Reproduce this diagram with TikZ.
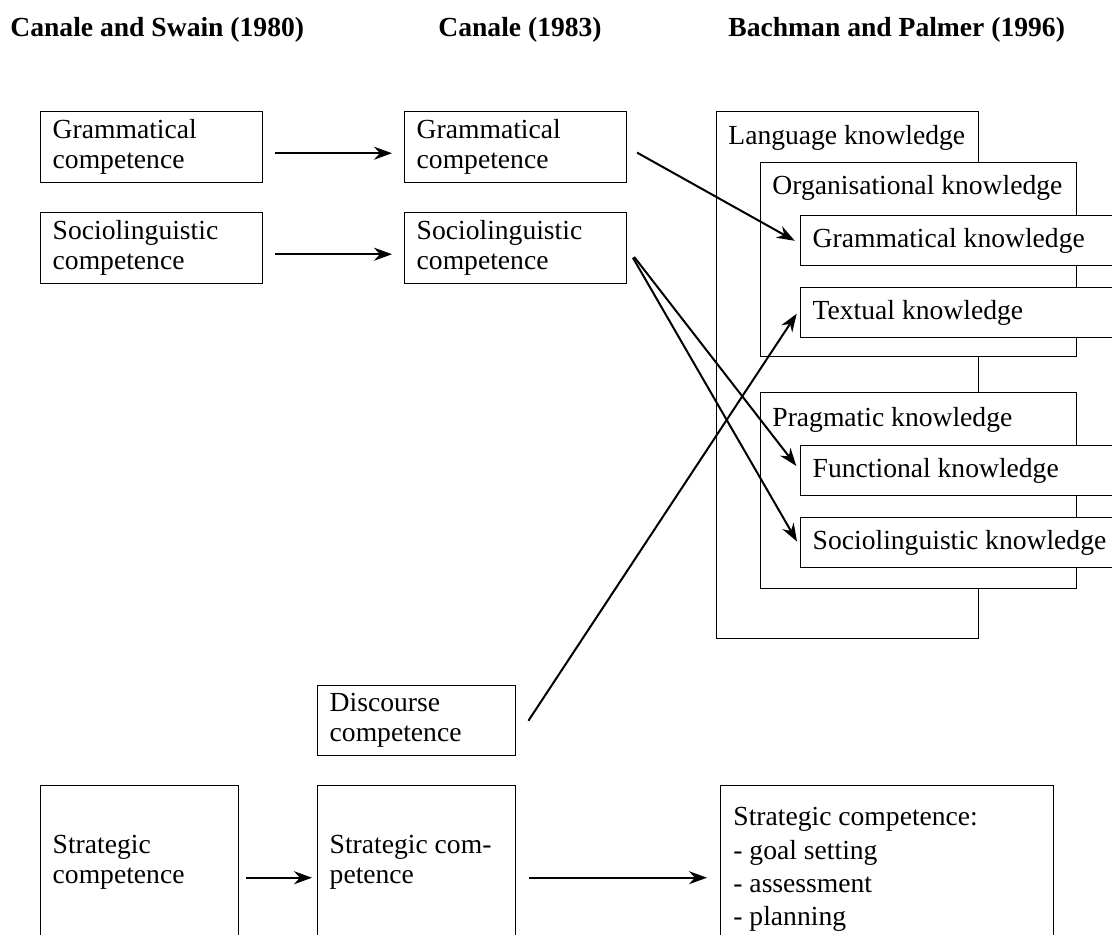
\documentclass[tikz,border=0pt]{standalone}
\usepackage{fontspec}
\setmainfont{Liberation Serif}
\usetikzlibrary{arrows.meta}
\newcommand{\boxfont}{\fontsize{13.8}{15}\selectfont}
\tikzset{
  box/.style={draw, fill=white, line width=0.7pt, anchor=north west, inner xsep=6pt, inner ysep=0pt, align=flush left, font=\boxfont},
  compbox/.style={box, text width=99pt, minimum height=35.5pt},
  stratbox/.style={box, text width=87pt, minimum height=#1},
  knowbox/.style={box, text width=153pt, minimum height=25pt},
  frame/.style={draw, fill=white, line width=0.7pt, anchor=north west, inner sep=0pt},
  lbl/.style={anchor=west, inner sep=0pt, font=\boxfont},
  head/.style={anchor=west, inner sep=0pt, font=\boxfont\bfseries},
  arr/.style={-{Stealth[length=9pt,width=6.5pt]}, line width=1pt},
}
\begin{document}
\begin{tikzpicture}[x=0.5pt,y=-0.5pt]
  \useasboundingbox (0,0) rectangle (1112,934);
  \clip (0,0) rectangle (1112,934);
  % headings
  \node[head] (h1) at (10,30) {Canale and Swain (1980)};
  \node[head] (h2) at (438,30) {Canale (1983)};
  \node[head] (h3) at (728,30) {Bachman and Palmer (1996)};
  % Canale and Swain
  \node[compbox] (lgram) at (40,111) {Grammatical\\competence};
  \node[compbox] (lsoc) at (40,212) {Sociolinguistic\\competence};
  \node[stratbox=77pt] (lstrat) at (40,785) {Strategic\\competence};
  % Canale
  \node[compbox] (mgram) at (404,111) {Grammatical\\competence};
  \node[compbox] (msoc) at (404,212) {Sociolinguistic\\competence};
  \node[stratbox=35pt] (mdisc) at (317,685) {Discourse\\competence};
  \node[stratbox=77pt] (mstrat) at (317,785) {Strategic com-\\petence};
  % Bachman and Palmer
  \node[frame, minimum width=131pt, minimum height=263.5pt] (lang) at (716,111) {};
  \node[lbl] (langl) at (728,138) {Language knowledge};
  \node[frame, minimum width=158pt, minimum height=97pt] (org) at (760,162) {};
  \node[lbl] (orgl) at (772,188) {Organisational knowledge};
  \node[knowbox] (gramk) at (800,215) {Grammatical knowledge};
  \node[knowbox] (textk) at (800,287) {Textual knowledge};
  \node[frame, minimum width=158pt, minimum height=98pt] (prag) at (760,392) {};
  \node[lbl] (pragl) at (772,420) {Pragmatic knowledge};
  \node[knowbox] (funck) at (800,445) {Functional knowledge};
  \node[knowbox] (sock) at (800,517) {Sociolinguistic knowledge};
  \node[frame, minimum width=166.5pt, minimum height=77pt] (rstrat) at (720,785) {};
  \node[lbl, anchor=north west, align=flush left, font=\fontsize{13.8}{16.7}\selectfont] (rstratl) at (733,807)
    {Strategic competence:\\- goal setting\\- assessment\\- planning};
  % arrows
  \draw[arr, shorten <=6pt, shorten >=6pt] ([yshift=-3pt]lgram.east) -- ([yshift=-3pt]mgram.west);
  \draw[arr, shorten <=6pt, shorten >=6pt] ([yshift=-3pt]lsoc.east) -- ([yshift=-3pt]msoc.west);
  \draw[arr, shorten <=3.5pt, shorten >=2.5pt] ([yshift=-7.5pt]lstrat.east) -- ([yshift=-7.5pt]mstrat.west);
  \draw[arr, shorten <=6.5pt, shorten >=6.5pt] ([yshift=-7.5pt]mstrat.east) -- ([yshift=-7.5pt]rstrat.west);
  \draw[arr, shorten <=5.5pt, shorten >=3pt] (mgram.east) -- ([yshift=-1.5pt]gramk.west);
  \draw[arr, shorten <=5.5pt, shorten >=3pt] (msoc.east) -- (funck.west);
  \draw[arr, shorten <=5.5pt, shorten >=3pt] (msoc.east) -- ([yshift=-2pt]sock.west);
  \draw[arr, shorten >=3pt] ([xshift=6pt]mdisc.east) -- ([yshift=2pt]textk.west);
\end{tikzpicture}
\end{document}
